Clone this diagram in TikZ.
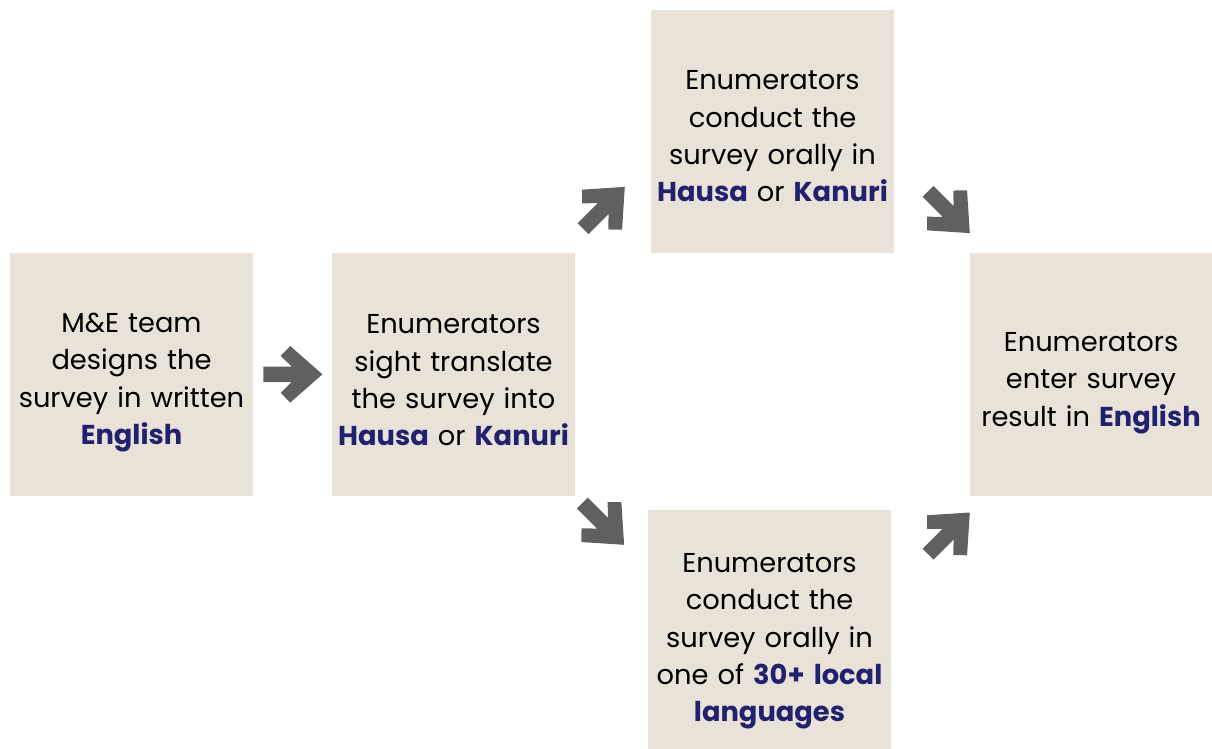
\documentclass[tikz,border=0pt]{standalone}
\usepackage{fontspec}
\setmainfont{Poppins}
\definecolor{boxfill}{RGB}{232,226,217}
\definecolor{navy}{RGB}{33,33,110}
\definecolor{arrowgray}{RGB}{96,96,96}
\newcommand{\hl}[1]{{\bfseries\color{navy}#1}}
\tikzset{
  stepbox/.style={fill=boxfill, minimum width=243pt, minimum height=243pt, inner sep=0pt},
  steptext/.style={inner sep=0pt, text width=242pt, align=center, font=\fontsize{27.3}{37.3}\selectfont},
  fatarrow/.pic={\fill[arrowgray] (-29.3,-7.7) -- (-1,-7.7) -- (-12,-18.5) -- (-2.5,-28.3) -- (29.7,0)
     -- (-2.5,28.3) -- (-12,18.5) -- (-1,7.7) -- (-29.3,7.7) -- cycle;}
}
\begin{document}
\begin{tikzpicture}[x=1pt,y=-1pt]
\useasboundingbox (0,0) rectangle (1212,748);
\node[stepbox] (design) at (131.5,374.5) {};
\node[stepbox] (sight) at (453.5,374.5) {};
\node[stepbox] (orala) at (772.5,131.5) {};
\node[stepbox] (oralb) at (769.5,631.5) {};
\node[stepbox] (enter) at (1091,374.5) {};
\node[steptext] (design-t) at ([yshift=-8pt]design.center) {M\&E team\\designs the\\survey in written\\\hl{English}};
\node[steptext] (sight-t) at ([yshift=-6pt]sight.center) {Enumerators\\sight translate\\the survey into\\\hl{Hausa} or \hl{Kanuri}};
\node[steptext] (orala-t) at ([yshift=-5pt]orala.center) {Enumerators\\conduct the\\survey orally in\\\hl{Hausa} or \hl{Kanuri}};
\node[steptext] (oralb-t) at ([yshift=-10pt]oralb.center) {Enumerators\\conduct the\\survey orally in\\one of \hl{30+ local}\\\hl{languages}};
\node[steptext] (enter-t) at ([yshift=-8.5pt]enter.center) {Enumerators\\enter survey\\result in \hl{English}};
\pic at (292.7,374.3) {fatarrow};
\pic[rotate=45] at (603.8,207.9) {fatarrow};
\pic[rotate=-45] at (948.8,212.1) {fatarrow};
\pic[rotate=-45] at (603.1,523.8) {fatarrow};
\pic[rotate=45] at (948.8,533.5) {fatarrow};
\end{tikzpicture}
\end{document}
